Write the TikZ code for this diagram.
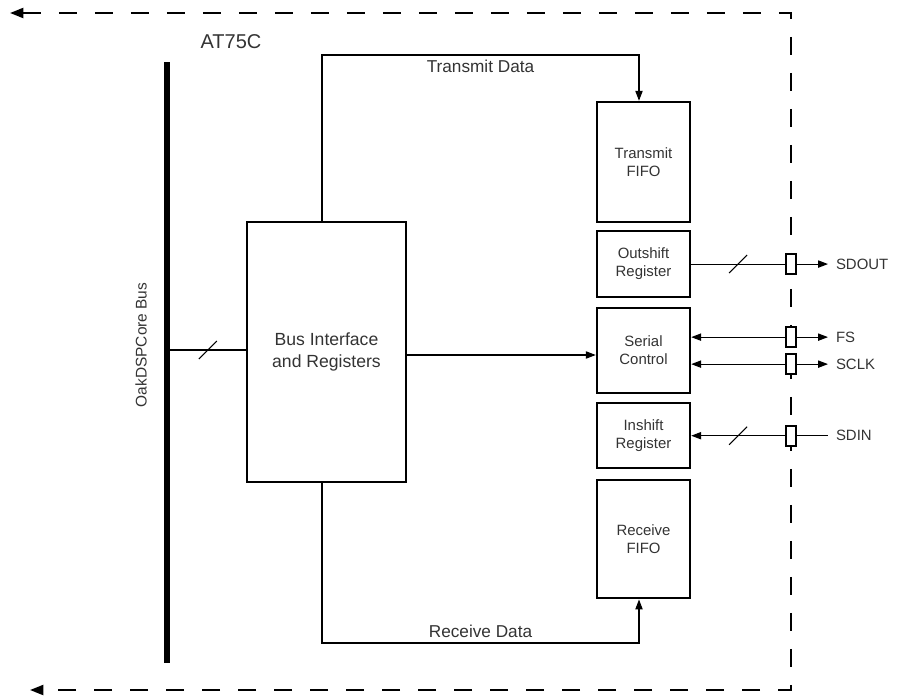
\documentclass[tikz,border=0pt]{standalone}
\usepackage{fontspec}
\setmainfont{Liberation Sans}
\usetikzlibrary{arrows.meta,positioning,calc}

\newcommand{\widthmark}[1]{\draw[wire] ($(#1)+(-9,9)$) -- ($(#1)+(9,-9)$);}

\begin{document}
\begin{tikzpicture}[x=0.75pt, y=-0.75pt]
    \tikzstyle{block} = [rectangle, draw=black, line width=1.8pt, minimum width=69.75pt, align=center, text=black!80, font=\fontsize{11.2}{13.5}\selectfont]
    \tikzstyle{wire} = [line width=0.8pt, draw=black]
    \tikzstyle{flow} = [wire, -{Triangle[length=7.5pt, width=5.5pt]}]
    \tikzstyle{backflow} = [wire, {Triangle[length=7.5pt, width=5.5pt]}-]
    \tikzstyle{frame} = [line width=1.5pt, dash pattern=on 13.5pt off 13.5pt, {Triangle[length=10pt, width=7.5pt]}-{Triangle[length=10pt, width=7.5pt]}]
    \tikzstyle{pad} = [rectangle, draw=black, fill=white, line width=1.5pt, minimum width=7.5pt, minimum height=15pt, inner sep=0pt]
    \tikzstyle{sig} = [inner sep=6pt, outer sep=0pt, text=black!80, font=\fontsize{11.2}{13.5}\selectfont]

    \useasboundingbox (0,0) rectangle (904,696);

    % chip boundary
    \coordinate (nw) at (10,13);
    \coordinate (ne) at (791,13);
    \coordinate (se) at (791,690);
    \coordinate (sw) at (30,690);
    \draw [frame] (nw) -- (ne) -- (se) -- (sw);
    \node [text=black!80, font=\fontsize{15}{18}\selectfont] (chip) at (231,42) {AT75C};

    % core bus
    \node [fill=black, minimum width=3.8pt, minimum height=450.75pt, inner sep=0pt] (bus) at (167,362.5) {};
    \node [rotate=90, text=black!80, font=\fontsize{11.6}{14}\selectfont] (buslabel) at (141,345) {OakDSPCore Bus};

    \node [block, minimum width=119.25pt, minimum height=195pt, font=\fontsize{13.2}{16.5}\selectfont] (busif) at (326.5,352) {Bus Interface\\and Registers};

    % serial port blocks
    \node [block, minimum height=90pt] (txfifo) at (643.5,162) {Transmit\\FIFO};
    \node [block, minimum height=49.5pt, below=5pt of txfifo] (outshift) {Outshift\\Register};
    \node [block, minimum height=63.75pt, below=6.5pt of outshift] (serial) {Serial\\Control};
    \node [block, minimum height=48.75pt, below=5.75pt of serial] (inshift) {Inshift\\Register};
    \node [block, minimum height=88.5pt, below=7.25pt of inshift] (rxfifo) {Receive\\FIFO};

    % pins
    \node [pad] (padout) at (outshift.east -| ne) {};
    \node [pad] (padfs) at ($(serial.east -| ne)+(0,-13.5)$) {};
    \node [pad] (padclk) at ($(serial.east -| ne)+(0,13.5)$) {};
    \node [pad] (padin) at (inshift.east -| ne) {};
    \node [sig, anchor=west, right=23.25pt of padout] (sdout) {SDOUT};
    \node [sig, anchor=west, right=23.25pt of padfs] (fs) {FS};
    \node [sig, anchor=west, right=23.25pt of padclk] (sclk) {SCLK};
    \node [sig, anchor=west, right=23.25pt of padin] (sdin) {SDIN};

    % data paths
    \coordinate (txtop) at (0,55);
    \coordinate (rxbot) at (0,643);
    \coordinate (txstart) at ($(busif.north)+(-4.5,0)$);
    \coordinate (rxstart) at ($(busif.south)+(-4.5,0)$);
    \draw [flow] (txstart) |- node [pos=0.75, below, sig, inner sep=4pt, font=\fontsize{12.9}{15}\selectfont] (txlabel) {Transmit Data} ($(txfifo.north |- txtop)+(-4.5,0)$) -- ($(txfifo.north)+(-4.5,0)$);
    \draw [flow] (rxstart) |- node [pos=0.75, above, sig, inner sep=4pt, font=\fontsize{12.9}{15}\selectfont] (rxlabel) {Receive Data} ($(rxfifo.south |- rxbot)+(-4.5,0)$) -- ($(rxfifo.south)+(-4.5,0)$);
    \draw [flow] ($(busif.east)+(0,3)$) -- ($(busif.east -| serial.west)+(0,3)$);
    \draw [wire] ($(busif.west -| bus.east)+(0,-2)$) -- coordinate [midway] (busmark) ($(busif.west)+(0,-2)$);
    \widthmark{busmark}

    % serial pins
    \draw [wire] (outshift.east) -- coordinate [midway] (outmark) (padout.west);
    \widthmark{outmark}
    \draw [flow] (padout.east) -- (sdout.west);
    \draw [backflow] (serial.east |- padfs) -- (padfs.west);
    \draw [flow] (padfs.east) -- (fs.west);
    \draw [backflow] (serial.east |- padclk) -- (padclk.west);
    \draw [flow] (padclk.east) -- (sclk.west);
    \draw [backflow] (inshift.east) -- coordinate [midway] (inmark) (padin.west);
    \widthmark{inmark}
    \draw [wire] (padin.east) -- (sdin.west);
\end{tikzpicture}
\end{document}
